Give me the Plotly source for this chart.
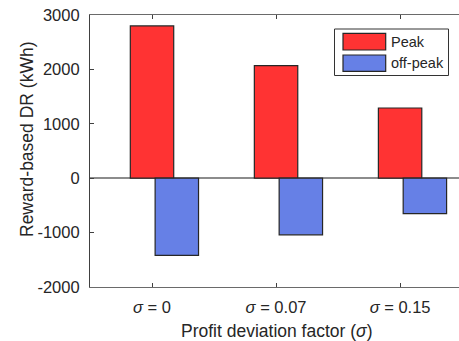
import plotly.graph_objects as go

categories = ["<i>σ</i> = 0", "<i>σ</i> = 0.07", "<i>σ</i> = 0.15"]
positions = [1, 2, 3]
peak = [2800, 2070, 1290]
off_peak = [-1420, -1040, -650]
y_ticks = [-2000, -1000, 0, 1000, 2000, 3000]
y_tick_labels = ["-2000", "-1000", "0", "1000", "2000", "3000"]
series_names = ["Peak", "off-peak"]
colors = ["rgb(255,51,51)", "rgb(102,128,230)"]

FONT = "Liberation Sans, Arial, Helvetica, sans-serif"
W, H = 459, 341
ML, MT, MB, MR = 90, 15, 54, 0

fig = go.Figure()
fig.add_trace(go.Bar(x=positions, y=peak, name=series_names[0], width=0.35, offset=-0.175,
                     marker=dict(color=colors[0], line=dict(color="#262626", width=1.2))))
fig.add_trace(go.Bar(x=positions, y=off_peak, name=series_names[1], width=0.35, offset=0.025,
                     marker=dict(color=colors[1], line=dict(color="#262626", width=1.2))))

fig.update_layout(
    width=W, height=H,
    margin=dict(l=ML, r=MR, t=MT, b=MB, pad=0),
    paper_bgcolor="white", plot_bgcolor="white",
    barmode="overlay", showlegend=False,
    font=dict(family=FONT, color="#262626"),
    xaxis=dict(range=[0.5, 3.475], tickvals=positions, ticktext=categories,
               ticks="inside", ticklen=4, tickcolor="#404040", tickwidth=1,
               showline=True, linecolor="#6a6a6a", linewidth=1.3, mirror="ticks",
               showgrid=False, zeroline=False, fixedrange=True, ticklabelstandoff=5,
               tickfont=dict(size=16.5, color="#262626", family=FONT)),
    yaxis=dict(range=[-2000, 3000], tickvals=y_ticks, ticktext=y_tick_labels,
               ticks="inside", ticklen=4, tickcolor="#404040", tickwidth=1,
               showline=True, linecolor="#404040", linewidth=1.2, mirror=False,
               showgrid=False, zeroline=True, zerolinecolor="#8c8c8c", zerolinewidth=1.5,
               ticklabelstandoff=6, fixedrange=True,
               tickfont=dict(size=16.5, color="#262626", family=FONT)),
)

# Axis titles
fig.add_annotation(text="Profit deviation factor (<i>σ</i>)", xref="paper", yref="paper",
                   x=(276 - ML) / (W - ML - MR), y=(H - MB - 330.5) / (H - MT - MB),
                   xanchor="center", yanchor="middle", showarrow=False,
                   font=dict(size=17.5, family=FONT, color="#262626"))
fig.add_annotation(text="Reward-based DR (kWh)", xref="paper", yref="paper",
                   x=(26.5 - ML) / (W - ML - MR), y=(H - MB - 139.5) / (H - MT - MB),
                   xanchor="center", yanchor="middle", textangle=-90, showarrow=False,
                   font=dict(size=17.5, family=FONT, color="#262626"))

# Legend box (drawn as decoration in pixel-mapped paper coords)
def px(x):
    return (x - ML) / (W - ML - MR)
def py(y):
    return (H - MB - y) / (H - MT - MB)

fig.add_shape(type="rect", xref="paper", yref="paper", x0=px(334.5), x1=px(448.5),
              y0=py(75.5), y1=py(29), line=dict(color="#333333", width=1), fillcolor="white")
legend_rows = [(33.3, 50), (55, 71.3)]
for name, col, (t, b) in zip(series_names, colors, legend_rows):
    fig.add_shape(type="rect", xref="paper", yref="paper", x0=px(343), x1=px(385.7),
                  y0=py(b), y1=py(t), line=dict(color="#262626", width=1.2), fillcolor=col)
    fig.add_annotation(text=name, xref="paper", yref="paper", x=px(389), y=py((t + b) / 2),
                       xanchor="left", yanchor="middle", showarrow=False,
                       font=dict(size=14.5, family=FONT, color="#262626"))

fig.write_html("out.html", config={"displayModeBar": False})
